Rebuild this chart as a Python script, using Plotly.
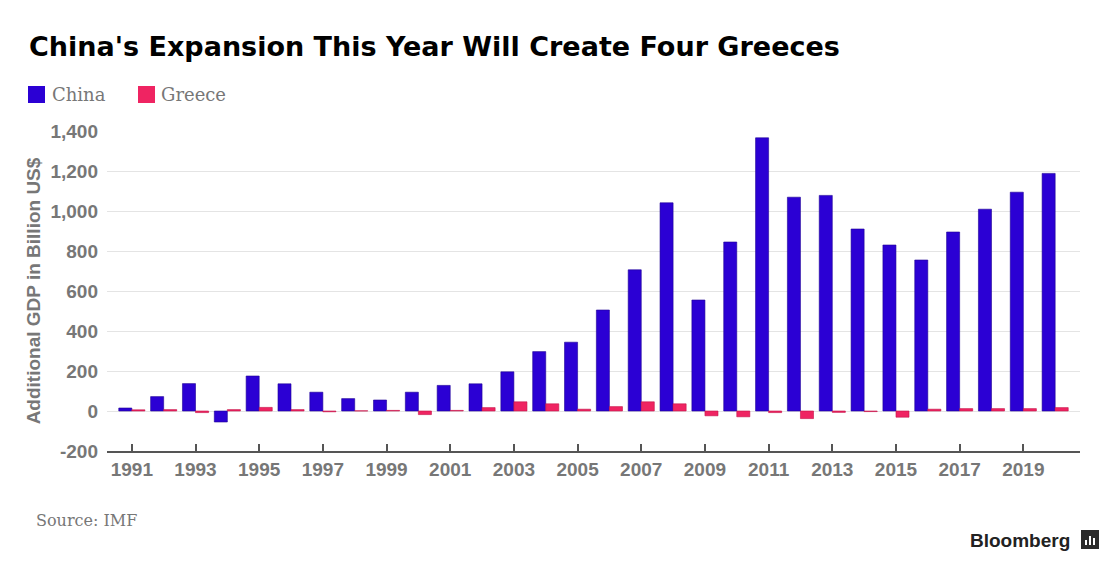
import plotly.graph_objects as go

years = list(range(1991, 2021))
china = [15, 72, 137, -55, 175, 136, 94, 62, 55, 94, 128, 136, 196, 297, 344,
         505, 706, 1041, 555, 845, 1366, 1069, 1078, 910, 830, 755, 895, 1009, 1094, 1188]
greece = [6, 7, -8, 7, 18, 7, -4, 1, 3, -18, 3, 17, 46, 36, 9,
          22, 46, 36, -24, -29, -8, -38, -7, -3, -31, 9, 12, 12, 12, 17]

y_ticks = [-200, 0, 200, 400, 600, 800, 1000, 1200, 1400]
y_labels = ["-200", "0", "200", "400", "600", "800", "1,000", "1,200", "1,400"]
x_ticks = [1990.22] + list(range(1991, 2021, 2)) + [2020.78]
x_labels = [""] + [str(y) for y in range(1991, 2021, 2)] + [""]

CHINA_C = "#2b00d4"
GREECE_C = "#ef2462"

fig = go.Figure()
fig.add_bar(x=years, y=china, name="China", marker=dict(color=CHINA_C, line=dict(color="#1e0096", width=0.6)))
fig.add_bar(x=years, y=greece, name="Greece", marker=dict(color=GREECE_C, line=dict(color="#c41048", width=0.6)))

fig.update_layout(
    width=1113, height=568,
    margin=dict(l=107, r=33, t=131, b=117),
    paper_bgcolor="white", plot_bgcolor="white",
    barmode="group", bargap=0.18, bargroupgap=0,
    showlegend=False,
    font=dict(family="Liberation Sans", color="#777777"),
)
fig.update_xaxes(
    range=[1990.22, 2020.78], tickvals=x_ticks, ticktext=x_labels,
    showgrid=False, showline=True, linecolor="#555555", linewidth=2,
    ticks="inside", ticklen=7, tickwidth=1.5, tickcolor="#555555",
    tickfont=dict(family="Liberation Sans", size=19, color="#777777", weight="bold"),
    zeroline=False,
)
fig.update_yaxes(
    range=[-200, 1400], tickvals=y_ticks, ticktext=y_labels,
    showgrid=True, gridcolor="#e4e4e4", gridwidth=1, zeroline=False,
    showline=False, ticks="", ticklabelstandoff=8,
    tickfont=dict(family="Liberation Sans", size=19, color="#777777", weight="bold"),
    title=dict(text="Additional GDP in Billion US$", standoff=4,
               font=dict(family="Liberation Sans", size=19, color="#777777", weight="bold")),
)

def px_to_paper_x(px):
    return (px - 107) / 973.0

def px_to_paper_y(py):
    return (451 - py) / 320.0

# Title
fig.add_annotation(text="<b>China's Expansion This Year Will Create Four Greeces</b>",
                   xref="paper", yref="paper", x=px_to_paper_x(27), y=px_to_paper_y(46),
                   xanchor="left", yanchor="middle",
                   showarrow=False, font=dict(family="DejaVu Sans", size=27, color="#000000"))

# Custom legend
for sq_x, txt_x, label, col in [(28, 50, "China", CHINA_C), (138, 159, "Greece", GREECE_C)]:
    fig.add_shape(type="rect", xref="paper", yref="paper",
                  x0=px_to_paper_x(sq_x), x1=px_to_paper_x(sq_x + 17),
                  y0=px_to_paper_y(103), y1=px_to_paper_y(86),
                  fillcolor=col, line=dict(width=0))
    fig.add_annotation(text=label, xref="paper", yref="paper",
                       x=px_to_paper_x(txt_x), y=px_to_paper_y(95), xanchor="left", yanchor="middle",
                       showarrow=False, font=dict(family="DejaVu Serif", size=18, color="#777777"))

# Source
fig.add_annotation(text="Source: IMF", xref="paper", yref="paper",
                   x=px_to_paper_x(34), y=px_to_paper_y(520), xanchor="left", yanchor="middle",
                   showarrow=False, font=dict(family="DejaVu Serif", size=16, color="#777777"))

# Bloomberg logo
fig.add_annotation(text="<b>Bloomberg</b>", xref="paper", yref="paper",
                   x=px_to_paper_x(1072), y=px_to_paper_y(540), xanchor="right", yanchor="middle",
                   showarrow=False, font=dict(family="Liberation Sans", size=19, color="#222222"))
fig.add_shape(type="rect", xref="paper", yref="paper",
              x0=px_to_paper_x(1081), x1=px_to_paper_x(1099),
              y0=px_to_paper_y(549), y1=px_to_paper_y(530),
              fillcolor="#2a2a2a", line=dict(width=0))
for bx, top in [(1085, 540), (1089, 536), (1093, 538)]:
    fig.add_shape(type="rect", xref="paper", yref="paper",
                  x0=px_to_paper_x(bx), x1=px_to_paper_x(bx + 2),
                  y0=px_to_paper_y(545), y1=px_to_paper_y(top),
                  fillcolor="white", line=dict(width=0))

fig.write_html("out.html", config={"displayModeBar": False},
               post_script="document.body.style.margin='0px';")
